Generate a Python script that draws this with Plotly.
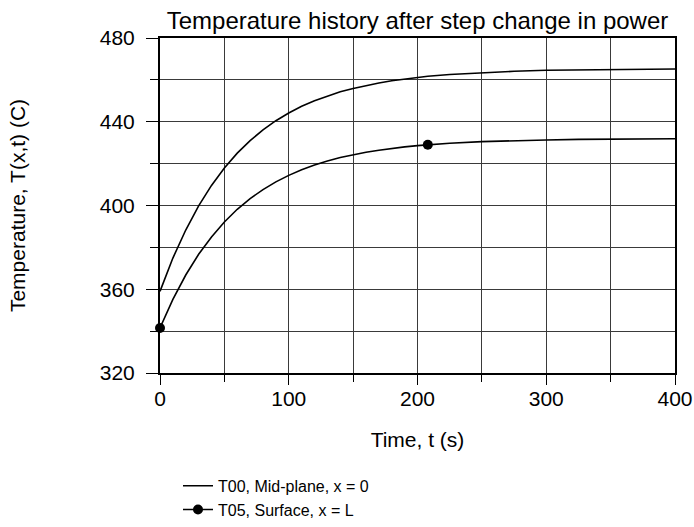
import plotly.graph_objects as go

# ---- data ----
time_s = [0, 10, 20, 30, 40, 50, 60, 70, 80, 90, 100, 110, 120, 130, 140, 150,
          160, 170, 180, 190, 200, 208, 225, 250, 275, 300, 325, 350, 375, 400]
t00_mid = [359.0, 374.9, 388.3, 399.8, 409.6, 417.9, 425.0, 431.0, 436.1, 440.5,
           444.2, 447.4, 450.0, 452.3, 454.3, 455.9, 457.3, 458.5, 459.6, 460.4,
           461.2, 461.7, 462.6, 463.5, 464.1, 464.6, 464.8, 465.0, 465.1, 465.2]
t05_surf = [341.5, 355.2, 366.8, 376.7, 385.0, 392.1, 398.2, 403.3, 407.6, 411.3,
            414.4, 417.1, 419.3, 421.3, 422.9, 424.3, 425.4, 426.4, 427.3, 428.0,
            428.6, 429.0, 429.7, 430.5, 431.0, 431.3, 431.6, 431.7, 431.8, 431.9]
marker_times = [0, 208]

x_ticks = [0, 100, 200, 300, 400]
y_ticks = [320, 360, 400, 440, 480]

title_text = "Temperature history after step change in power"
x_title = "Time, t (s)"
y_title = "Temperature, T(x,t) (C)"
name_t00 = "T00, Mid-plane, x = 0"
name_t05 = "T05, Surface, x = L"

FONT = "Liberation Sans, Arial, sans-serif"

mk_x = [t for t in time_s if t in marker_times]
mk_y = [v for t, v in zip(time_s, t05_surf) if t in marker_times]

fig = go.Figure()
fig.add_trace(go.Scatter(x=time_s, y=t00_mid, mode="lines", name=name_t00,
                         line=dict(color="black", width=1.6),
                         showlegend=True))
fig.add_trace(go.Scatter(x=time_s, y=t05_surf, mode="lines", name=name_t05,
                         line=dict(color="black", width=1.6),
                         showlegend=False))
fig.add_trace(go.Scatter(x=mk_x, y=mk_y, mode="markers", name=name_t05,
                         marker=dict(color="black", size=10),
                         showlegend=False, cliponaxis=False))
fig.add_trace(go.Scatter(x=[None], y=[None], mode="lines+markers", name=name_t05,
                         line=dict(color="black", width=1.6),
                         marker=dict(color="black", size=10)))

grid_col = "#3a3a3a"
fig.update_xaxes(range=[0, 400], tickvals=x_ticks, ticktext=[str(v) for v in x_ticks],
                 showgrid=True, gridcolor=grid_col, gridwidth=1,
                 ticks="outside", ticklen=10, tickcolor="black", tickwidth=1,
                 minor=dict(dtick=50, tick0=0, showgrid=True, gridcolor=grid_col,
                            gridwidth=1, ticks="outside", ticklen=7, tickcolor="black"),
                 showline=True, linecolor="black", linewidth=2, mirror=True,
                 zeroline=False, automargin=False, ticklabelstandoff=-4,
                 tickfont=dict(family=FONT, size=21, color="black"),
                 title=dict(text=x_title, font=dict(family=FONT, size=21, color="black"),
                            standoff=23))
fig.update_yaxes(range=[320, 480], tickvals=y_ticks, ticktext=[str(v) for v in y_ticks],
                 showgrid=True, gridcolor=grid_col, gridwidth=1,
                 ticks="outside", ticklen=12, tickcolor="black", tickwidth=1,
                 minor=dict(dtick=20, tick0=320, showgrid=True, gridcolor=grid_col,
                            gridwidth=1, ticks="outside", ticklen=8, tickcolor="black"),
                 showline=True, linecolor="black", linewidth=2, mirror=True,
                 zeroline=False, automargin=False, ticklabelstandoff=7,
                 tickfont=dict(family=FONT, size=21, color="black"),
                 title=dict(text=y_title, font=dict(family=FONT, size=21, color="black"),
                            standoff=68))

W, H = 694, 527
fig.update_layout(
    width=W, height=H,
    margin=dict(l=160, r=19, t=38, b=154, autoexpand=False),
    paper_bgcolor="white", plot_bgcolor="white",
    title=dict(text=title_text, x=0.5, xref="paper",
               y=1 - 21 / H, yref="container", yanchor="middle",
               font=dict(family=FONT, size=24, color="black")),
    legend=dict(x=(178 - 160) / 515, xref="paper", y=-0.286, yanchor="top",
                xanchor="left", font=dict(family=FONT, size=16, color="black"),
                tracegroupgap=0, itemwidth=30, bgcolor="rgba(0,0,0,0)"),
    showlegend=True,
    hovermode=False,
)

# remove the default page margin so the figure sits at the window's top-left corner
fig.write_html("out.html", config={"displayModeBar": False},
               post_script="document.body.style.margin='0px';")
